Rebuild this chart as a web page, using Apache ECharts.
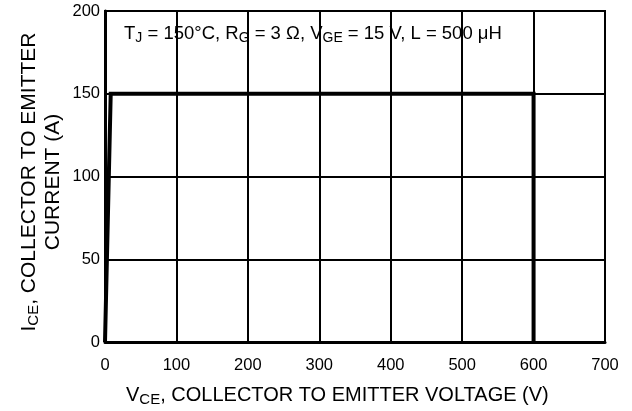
<!DOCTYPE html>
<html>
<head>
<meta charset="utf-8">
<script src="https://cdn.jsdelivr.net/npm/echarts@6/dist/echarts.min.js"></script>
<style>html,body{margin:0;padding:0;background:#fff}#c{width:632px;height:411px}</style>
</head>
<body>
<div id="c"></div>
<script>
const vce = [0, 8, 600, 600];
const ice = [0, 150, 150, 0];
const xTicks = [0, 100, 200, 300, 400, 500, 600, 700];
const yTicks = [0, 50, 100, 150, 200];

const FONT = '"Liberation Sans", Arial, Helvetica, sans-serif';
const chart = echarts.init(document.getElementById('c'), null, {renderer: 'canvas'});
const rich = {
  n: {fontSize: 20, fontFamily: FONT, color: '#000'},
  s: {fontSize: 15, fontFamily: FONT, color: '#000', padding: [9, 0, 0, 0]},
  y: {fontSize: 21, fontFamily: FONT, color: '#000'},
  ys: {fontSize: 15, fontFamily: FONT, color: '#000', padding: [10, 0, 0, 0]},
  a: {fontSize: 18.5, fontFamily: FONT, color: '#000'},
  as: {fontSize: 14, fontFamily: FONT, color: '#000', padding: [8, 0, 0, 0]}
};
chart.setOption({
  animation: false,
  backgroundColor: '#fff',
  grid: {left: 105, right: 27, top: 11, bottom: 69, show: true, borderColor: '#000', borderWidth: 2, backgroundColor: 'transparent'},
  xAxis: {
    type: 'value', min: xTicks[0], max: xTicks[xTicks.length - 1], interval: 100,
    axisLine: {show: true, lineStyle: {color: '#000', width: 3}},
    axisTick: {show: false},
    splitLine: {show: true, lineStyle: {color: '#000', width: 2}},
    axisLabel: {color: '#000', fontSize: 16.5, fontFamily: FONT, margin: 15}
  },
  yAxis: {
    type: 'value', min: yTicks[0], max: yTicks[yTicks.length - 1], interval: 50,
    axisLine: {show: true, lineStyle: {color: '#000', width: 3}},
    axisTick: {show: false},
    splitLine: {show: true, lineStyle: {color: '#000', width: 2}},
    axisLabel: {color: '#000', fontSize: 16.5, fontFamily: FONT, margin: 5}
  },
  series: [{
    type: 'line',
    data: vce.map((v, i) => [v, ice[i]]),
    showSymbol: false,
    lineStyle: {color: '#000', width: 4, join: 'miter'},
    z: 5
  }],
  graphic: [
    {
      type: 'text', x: 126, y: 395,
      style: {text: '{n|V}{s|CE}{n|, COLLECTOR TO EMITTER VOLTAGE (V)}', rich: rich, verticalAlign: 'middle'}
    },
    {
      type: 'text', x: 29, y: 182, rotation: Math.PI / 2,
      style: {text: '{y|I}{ys|CE}{y|, COLLECTOR TO EMITTER}', rich: rich, align: 'center', verticalAlign: 'middle'}
    },
    {
      type: 'text', x: 53, y: 182, rotation: Math.PI / 2,
      style: {text: '{y|CURRENT (A)}', rich: rich, align: 'center', verticalAlign: 'middle'}
    },
    {
      type: 'text', x: 124, y: 34,
      style: {text: '{a|T}{as|J}{a| = 150°C, R}{as|G}{a| = 3 Ω, V}{as|GE}{a| = 15 V, L = 500 μH}', rich: rich, verticalAlign: 'middle'}
    }
  ]
});
</script>
</body>
</html>
